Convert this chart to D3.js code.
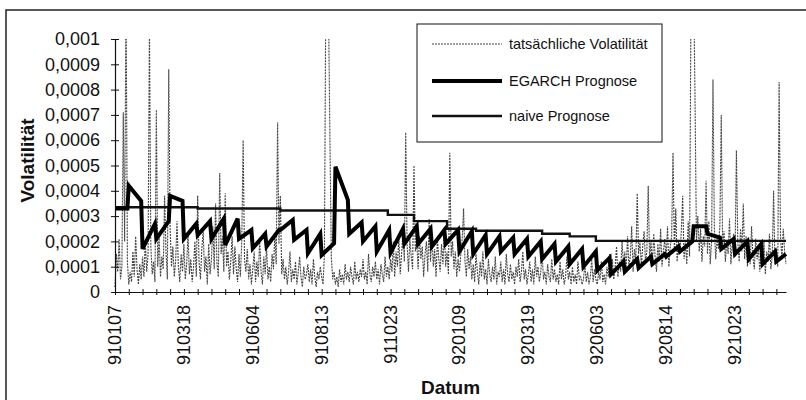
<!DOCTYPE html>
<html><head><meta charset="utf-8">
<script src="https://cdnjs.cloudflare.com/ajax/libs/d3/7.8.5/d3.min.js"></script>
<style>body{margin:0;background:#fff} svg{display:block} text{font-family:"Liberation Sans",Arial,Helvetica,sans-serif;fill:#111}</style>
</head><body><svg id="c" width="806" height="400"></svg>
<script>
// ---------- data (volatility values in units of 1e-4) ----------
const dateLabels = ["910107","910318","910604","910813","911023","920109","920319","920603","920814","921023"];
const labelEvery = 50;   // one date label every 50 trading days
const tickEvery = 10;    // tick mark every 10 trading days
const yTickValues = [0,0.0001,0.0002,0.0003,0.0004,0.0005,0.0006,0.0007,0.0008,0.0009,0.001];
const yTickLabels = ["0","0,0001","0,0002","0,0003","0,0004","0,0005","0,0006","0,0007","0,0008","0,0009","0,001"];
const seriesNames = ["tatsächliche Volatilität","EGARCH Prognose","naive Prognose"];

const actualVol = [
0.2,1.5,0.8,2.1,0.5,1.0,7.1,2.0,12,1.2,
0.3,0.8,0.4,1.6,0.6,2.2,0.9,0.3,1.1,0.5,
1.4,0.6,2.0,0.8,1.5,10.5,1.8,0.7,1.2,0.4,
7.2,1.0,2.2,0.6,1.4,0.9,3.8,1.6,0.5,8.8,
2.5,1.0,1.8,0.6,1.2,2.8,1.0,0.4,1.5,0.8,
1.9,0.5,1.1,2.3,0.7,1.3,0.4,1.0,2.0,0.6,
3.8,1.2,0.5,1.7,2.4,0.8,1.4,0.3,1.9,0.7,
1.3,2.6,0.9,3.5,1.1,0.6,4.7,1.5,2.2,0.8,
3.9,1.0,1.6,0.5,1.2,2.2,0.7,1.8,0.9,0.4,
1.5,0.6,2.0,6.0,1.3,0.8,1.7,0.5,1.1,0.3,
0.9,1.6,0.4,1.2,0.6,2.1,0.8,0.3,1.4,0.7,
1.8,0.5,1.0,0.4,1.5,0.9,2.3,1.1,6.7,1.9,
3.8,0.7,1.3,0.5,1.0,0.3,0.8,1.6,0.4,0.9,
0.5,1.2,0.3,0.8,1.4,0.6,0.2,1.0,0.5,0.7,
1.1,0.4,0.9,0.3,1.3,0.6,0.2,0.8,0.5,1.0,
0.6,0.3,1.5,12,14,11,6.0,1.4,0.5,0.8,
0.3,0.6,0.2,0.9,0.4,0.7,0.3,1.1,0.5,0.8,
0.4,1.0,0.6,0.3,1.2,0.5,0.8,0.4,0.9,0.6,
1.3,0.5,0.8,0.3,1.5,0.7,0.4,1.0,0.6,1.2,
0.5,0.9,0.3,1.1,0.7,0.4,1.4,0.6,1.0,0.5,
1.3,0.8,2.0,0.6,1.6,1.0,2.2,0.7,1.5,2.4,
1.2,6.3,1.9,0.8,2.1,1.4,0.9,5.0,1.6,2.0,
0.9,2.2,1.3,1.8,0.6,1.5,2.0,0.8,2.9,1.2,
2.3,1.0,1.7,0.6,2.1,1.3,0.8,1.9,1.1,2.4,
1.0,1.6,0.7,5.5,1.4,2.0,0.9,1.6,0.6,1.3,
0.8,1.5,2.1,3.3,1.2,0.6,1.7,0.9,1.4,0.5,
1.1,0.4,1.5,0.8,0.3,1.2,0.6,1.6,0.5,0.9,
0.3,1.3,0.7,0.4,1.0,0.5,1.4,0.3,0.8,0.6,
1.2,0.4,0.9,0.3,1.5,0.7,0.4,1.1,0.5,0.8,
0.3,1.0,0.6,1.3,0.4,0.8,1.6,0.5,0.9,0.3,
0.7,1.2,0.4,0.9,0.3,1.4,0.6,1.0,0.4,0.8,
1.5,0.5,0.8,0.3,1.1,0.6,0.4,1.3,0.5,0.9,
0.4,0.7,0.3,1.2,0.5,0.9,0.3,0.6,1.4,0.5,
0.8,0.3,1.0,0.4,0.7,0.3,1.2,0.5,0.6,0.3,
0.5,1.1,0.4,0.8,0.3,0.6,1.3,0.4,0.9,0.5,
0.3,0.8,0.5,1.2,0.4,0.7,0.3,1.0,0.6,1.5,
0.7,1.3,0.5,1.0,1.8,0.6,1.2,0.8,2.0,1.1,
1.6,0.9,2.2,1.0,1.4,2.6,0.8,1.7,1.2,3.9,
1.5,2.0,1.0,1.8,2.4,1.2,1.6,4.2,1.3,2.0,
1.0,2.3,1.4,0.8,1.9,1.2,2.5,1.0,1.6,2.1,
1.3,2.6,1.0,1.8,2.2,5.5,1.6,3.3,1.2,2.0,
1.5,2.4,3.8,1.3,2.0,1.1,2.8,1.4,11,13,
12,7.5,2.0,3.0,1.6,2.5,1.2,2.2,1.8,4.4,
1.5,2.8,1.1,2.0,8.4,2.5,1.3,2.1,1.7,2.6,
7.0,1.8,2.4,1.2,2.0,1.5,2.9,1.1,1.9,2.3,
1.4,5.6,2.0,1.2,2.5,1.6,3.5,1.3,2.2,1.0,
1.8,1.1,2.6,1.4,0.9,2.1,1.3,1.7,0.8,1.5,
1.0,2.0,0.7,1.6,1.2,2.3,0.9,1.4,4.0,1.1,
1.7,1.0,8.3,2.2,1.3,2.5,1.6,1.1];

// EGARCH forecast: value at the first and at the last day of each 10-day block
const egarchBlockStart = [3.3,4.2,1.7,2.1,3.8,2.1,2.25,2.1,1.85,2.1,1.73,1.8,2.45,2.06,1.53,1.46,4.95,2.3,2.0,1.6,
  1.55,1.9,1.9,1.8,1.9,1.6,1.5,1.5,1.6,1.5,1.4,1.3,1.2,1.1,1.0,0.85,0.7,0.8,0.95,1.1,
  1.4,1.6,2.6,2.3,1.7,1.5,1.3,1.1,1.2];
const egarchBlockEnd = [3.3,3.6,2.7,2.8,3.6,2.7,2.8,2.9,2.9,2.45,2.3,2.45,2.85,2.45,2.3,1.92,3.64,2.75,2.6,2.45,
  2.5,2.6,2.5,2.45,2.45,2.4,2.25,2.2,2.15,2.1,2.0,1.9,1.8,1.7,1.6,1.35,1.2,1.3,1.4,1.5,
  1.8,2.0,2.6,2.15,2.1,2.0,1.9,1.6,1.5];
const blockLen = 10;

// naive forecast: step function (first day of step, level)
const naiveStepDay = [0,60,120,198,217,241,262,310,330,349];
const naiveStepLevel = [3.35,3.3,3.22,3.05,2.8,2.5,2.42,2.3,2.2,2.02];

// ---------- drawing ----------
const N = actualVol.length;
const unit = 1e-4;
const svg = d3.select("#c");
const W = 806, H = 400;
const pL = 115, pR = 786, pT = 39, pB = 292;

const x = d3.scaleLinear().domain([0, N - 1]).range([pL, pR]);
const y = d3.scaleLinear().domain([0, 0.001]).range([pB, pT]);

// outer frame
svg.append("path").attr("d", `M6,${H+2} V10 H${W+2}`).attr("fill","none").attr("stroke","#222").attr("stroke-width",1.5);

svg.append("clipPath").attr("id","plotclip").append("rect")
  .attr("x", pL-3).attr("y", pT).attr("width", pR-pL+6).attr("height", pB-pT+1);

const g = svg.append("g").attr("clip-path","url(#plotclip)");

// actual volatility
const actualPts = actualVol.map((v,i)=>[i, v*unit]);
g.append("path").datum(actualPts)
  .attr("d", d3.line().x(d=>x(d[0])).y(d=>y(d[1])))
  .attr("fill","none").attr("stroke","#444").attr("stroke-width",1.1).attr("stroke-dasharray","2,1");

// naive forecast
const naivePts = [];
naiveStepDay.forEach((d,i)=>{
  const end = i+1 < naiveStepDay.length ? naiveStepDay[i+1] : N-1;
  naivePts.push([d, naiveStepLevel[i]*unit]);
  naivePts.push([end, naiveStepLevel[i]*unit]);
});
g.append("path").datum(naivePts)
  .attr("d", d3.line().x(d=>x(d[0])).y(d=>y(d[1])))
  .attr("fill","none").attr("stroke","#111").attr("stroke-width",2.4);

// EGARCH forecast
const egPts = [];
egarchBlockStart.forEach((s,k)=>{
  const a = k*blockLen, b = Math.min(k*blockLen + blockLen - 1, N-1);
  egPts.push([a, s*unit]);
  egPts.push([b, egarchBlockEnd[k]*unit]);
});
g.append("path").datum(egPts)
  .attr("d", d3.line().x(d=>x(d[0])).y(d=>y(d[1])))
  .attr("fill","none").attr("stroke","#000").attr("stroke-width",4).attr("stroke-linejoin","miter");

// y axis
const yAxis = svg.append("g").attr("transform",`translate(${pL},0)`)
  .call(d3.axisLeft(y).tickValues(yTickValues).tickFormat((d,i)=>yTickLabels[i]).tickSizeOuter(0).tickSizeInner(4).tickPadding(11));
yAxis.select(".domain").attr("stroke","#111").attr("stroke-width",1.2);
yAxis.selectAll(".tick line").attr("x1",-4).attr("x2",4).attr("stroke","#111");
yAxis.selectAll(".tick text").attr("font-size",18).attr("font-family","Liberation Sans, Arial, sans-serif").attr("fill","#111");

// x axis
const xTicks = d3.range(0, N, tickEvery);
const xAxis = svg.append("g").attr("transform",`translate(0,${pB})`)
  .call(d3.axisBottom(x).tickValues(xTicks).tickFormat("").tickSizeOuter(0).tickSizeInner(3));
xAxis.select(".domain").attr("stroke","#111").attr("stroke-width",1.2);
xAxis.selectAll(".tick line").attr("y1",-3).attr("y2",3).attr("stroke","#111");

svg.append("g").selectAll("text").data(dateLabels).join("text")
  .attr("transform",(d,i)=>`translate(${x(i*labelEvery)+6},${pB+13}) rotate(-90)`)
  .attr("text-anchor","end").attr("font-size",18).text(d=>d);

// axis titles
svg.append("text").attr("transform",`translate(34,${(pT+pB)/2-5}) rotate(-90)`)
  .attr("text-anchor","middle").attr("font-size",19).attr("font-weight","bold").text("Volatilität");
svg.append("text").attr("x",(pL+pR)/2).attr("y",394)
  .attr("text-anchor","middle").attr("font-size",19).attr("font-weight","bold").text("Datum");

// legend
const lg = svg.append("g");
lg.append("rect").attr("x",417).attr("y",24).attr("width",245).attr("height",118)
  .attr("fill","#fff").attr("stroke","#111").attr("stroke-width",1);
const legY = [44,81,116];
const legStyle = [
  {stroke:"#444", w:1.1, dash:"2,1"},
  {stroke:"#000", w:4, dash:null},
  {stroke:"#111", w:2.4, dash:null}];
seriesNames.forEach((nm,i)=>{
  lg.append("line").attr("x1",432).attr("x2",502).attr("y1",legY[i]).attr("y2",legY[i])
    .attr("stroke",legStyle[i].stroke).attr("stroke-width",legStyle[i].w).attr("stroke-dasharray",legStyle[i].dash);
  lg.append("text").attr("x",509).attr("y",legY[i]+5).attr("font-size",14.5).text(nm);
});
</script></body></html>
